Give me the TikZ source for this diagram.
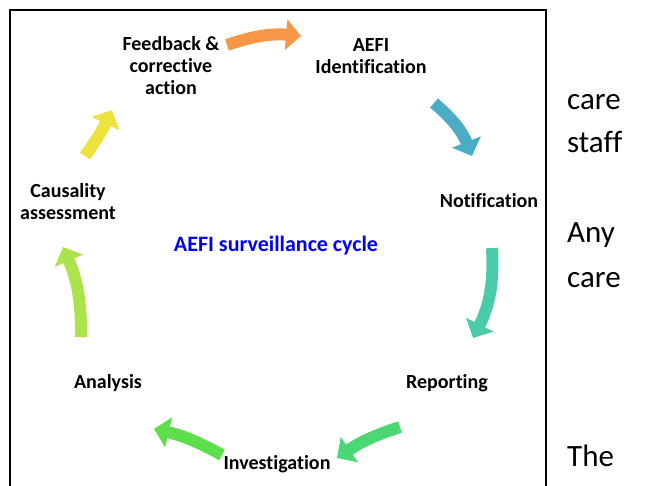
\documentclass[tikz,border=0pt]{standalone}
\usepackage{fontspec}
\setmainfont[Ligatures=NoCommon]{Carlito}
\usepackage{xcolor}
\usetikzlibrary{positioning, arrows.meta}

\definecolor{cOrange}{HTML}{F79646}
\definecolor{cBlue}{HTML}{4BACC6}
\definecolor{cTeal}{HTML}{4BCBA8}
\definecolor{cGreen}{HTML}{4BD773}
\definecolor{cGreenB}{HTML}{5CDF4B}
\definecolor{cLime}{HTML}{ACE34A}
\definecolor{cYellow}{HTML}{EDE33F}

\begin{document}
\begin{tikzpicture}[x=1pt,y=-1pt]
	\tikzstyle{stage}=[align=center,font=\fontsize{20}{22}\selectfont\bfseries,inner sep=0pt]
	\tikzstyle{side}=[anchor=base west,font=\fontsize{31}{36}\selectfont,inner sep=0pt]
	\tikzstyle{cyc}=[line width=12pt,-{Triangle[length=15pt,width=30pt]}]
	\useasboundingbox (0,0) rectangle (646,486);
	% frame
	\coordinate (f1) at (10,486);
	\coordinate (f2) at (10,10);
	\coordinate (f3) at (546,10);
	\coordinate (f4) at (546,486);
	\draw[line width=2pt] (f1) -- (f2) -- (f3) -- (f4);
	% stages
	\node[stage](fb) at (171,66) {Feedback \&\\corrective\\action};
	\node[stage](id) at (371,56) {AEFI\\Identification};
	\node[stage](nt) at (489,201) {Notification};
	\node[stage](rp) at (447,383) {Reporting};
	\node[stage](iv) at (277,464) {Investigation};
	\node[stage](an) at (108,383) {Analysis};
	\node[stage](ca) at (68,202) {Causality\\assessment};
	\node[stage,text=blue,font=\fontsize{22}{24}\selectfont\bfseries](tt) at (276,246) {AEFI surveillance cycle};
	% arrow ends
	\coordinate (a1) at (227,45);  \coordinate (b1) at (301,36);
	\coordinate (a2) at (434,103); \coordinate (b2) at (472,156);
	\coordinate (a3) at (492,248); \coordinate (b3) at (473,338);
	\coordinate (a4) at (400,427); \coordinate (b4) at (337,458);
	\coordinate (a5) at (222,455); \coordinate (b5) at (154,429);
	\coordinate (a6) at (81,337);  \coordinate (b6) at (63,247);
	\coordinate (a7) at (85,156);  \coordinate (b7) at (112,110);
	\path[cyc]
		(a1) edge[cOrange,bend left=12] (b1)
		(a2) edge[cBlue,bend left=14] (b2)
		(a3) edge[cTeal,bend left=15] (b3)
		(a4) edge[cGreen,bend right=8] (b4)
		(a5) edge[cGreenB,bend right=8] (b5)
		(a6) edge[cLime,bend right=12] (b6)
		(a7) edge[cYellow,bend right=5] (b7);
	% text beside the frame
	\node[side](s1) at (567,110) {care};
	\node[side](s2) at (567,153) {staff};
	\node[side](s3) at (567,243) {Any};
	\node[side](s4) at (567,288) {care};
	\node[side](s5) at (567,467) {The};
\end{tikzpicture}
\end{document}
